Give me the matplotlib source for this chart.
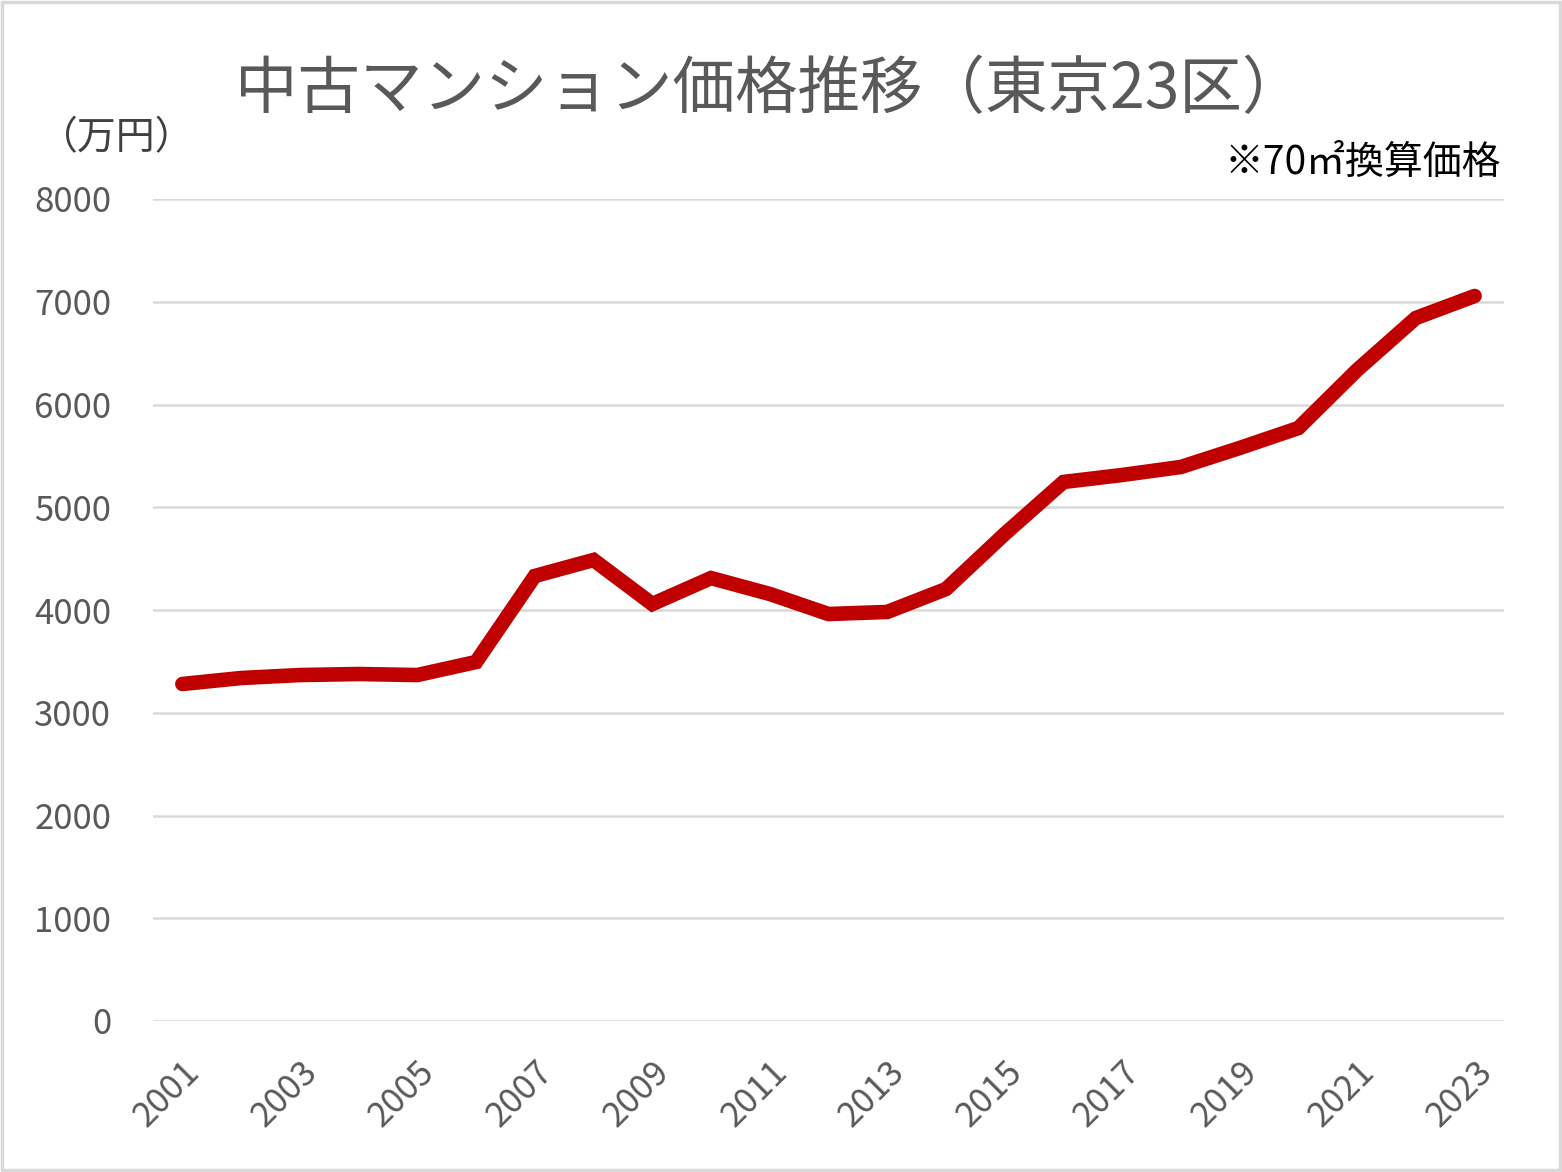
import matplotlib
matplotlib.use("Agg")
import matplotlib.pyplot as plt
from matplotlib.patches import Rectangle

plt.rcParams['font.family'] = ['Noto Sans CJK JP', 'DejaVu Sans']

years = list(range(2001, 2024))
prices = [3280, 3338, 3367, 3377, 3367, 3494, 4331, 4487, 4058, 4311, 4156, 3961,
          3981, 4204, 4740, 5246, 5314, 5392, 5577, 5771, 6336, 6842, 7056]
yticks = [0, 1000, 2000, 3000, 4000, 5000, 6000, 7000, 8000]
xtick_years = years[::2]

title = "中古マンション価格推移（東京23区）"
unit_label = "（万円）"
note = "※70㎡換算価格"

fig = plt.figure(figsize=(15.62, 11.72), dpi=100)
ax = fig.add_axes([153/1562, 1-1021/1172, (1504-153)/1562, (1021-199)/1172])

ax.plot(years, prices, color="#C00000", lw=10.5, solid_joinstyle="miter",
        solid_capstyle="round", zorder=3)
ax.set_xlim(2000.5, 2023.5)
ax.set_ylim(0, 8000)
ax.set_yticks(yticks)
ax.set_yticklabels([str(v) for v in yticks])
ax.set_xticks(xtick_years)
ax.set_xticklabels([str(y) for y in xtick_years], rotation=45, ha="right",
                   va="top", rotation_mode="anchor")
ax.grid(axis="y", color="#D9D9D9", lw=1.8, zorder=0)
ax.tick_params(axis="both", length=0, labelsize=25, colors="#595959")
ax.tick_params(axis="y", pad=30)
ax.tick_params(axis="x", pad=24)
for s in ax.spines.values():
    s.set_visible(False)

fig.text(0.493, 1-90/1172, title, ha="center", va="center", fontsize=45, color="#595959")
fig.text(117/1562, 1-138/1172, unit_label, ha="center", va="center", fontsize=28, color="#404040")
fig.text(1501/1562, 1-163/1172, note, ha="right", va="center", fontsize=28, color="black")

fig.patches.append(Rectangle((0.0015, 0.002), 0.997, 0.996, transform=fig.transFigure,
                             fill=False, edgecolor="#D9D9D9", lw=2.5))

fig.savefig("out.png", dpi=100, facecolor="white")
